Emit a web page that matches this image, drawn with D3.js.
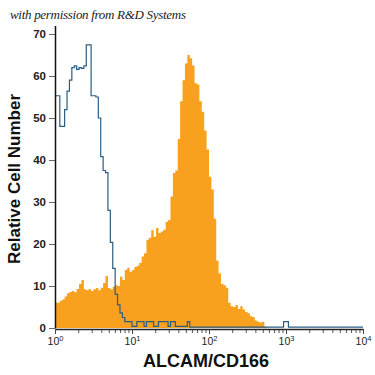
<!DOCTYPE html>
<html>
<head>
<meta charset="utf-8">
<script src="https://cdn.jsdelivr.net/npm/d3@7"></script>
<style>
  body { margin: 0; background: #fff; }
  svg { display: block; }
</style>
</head>
<body>
<div id="chart"></div>
<script>
// histogram channels: 128 bins spread evenly over 4 log decades (10^0 .. 10^4)
var orangeCounts = [
  6, 6, 6.5, 6.8, 7.5, 8.3, 8.6, 8.8, 8.5, 9.3,
  10.5, 11.4, 9.2, 9, 9.3, 8.8, 9.2, 9.5, 9, 9.6,
  10.7, 12.4, 9.5, 9.2, 9.8, 10.2, 10, 12.2, 11.4, 13.8,
  14.3, 13.4, 13.8, 14.5, 14.8, 15.5, 17, 17.8, 21, 21.5,
  23.3, 21.7, 23.8, 22.6, 23, 23.4, 25.3, 25.7, 31.3, 36.9,
  37.5, 45, 54, 59, 63, 65, 64.2, 62.5, 58.3, 58,
  54, 51.5, 47, 42.5, 36, 33, 26, 16, 13, 10.5,
  10.2, 9.6, 6, 5.2, 5, 5.5, 4.5, 5.2, 4.4, 3.8,
  3.5, 2.8, 2.6, 1.8, 1.5, 1.3, 1.5, 0.3
];

var isotypeCounts = [
  55.3, 55.3, 48, 48, 52, 56.4, 59, 62, 62.4, 61.6,
  62, 61.8, 62.4, 67.4, 67.4, 55.3, 55.3, 55, 50, 40.8,
  37.5, 37, 28, 20.4, 14.2, 8, 5.5, 3.6, 2.5, 1.5,
  1.5, 1.5, 0.4, 0.4, 1.5, 1.5, 1.5, 0.4, 1.5, 1.5,
  1.5, 0.4, 0.4, 1.5, 1.5, 1.5, 1.5, 0.4, 1.5, 1.5,
  0.4, 0.4, 0.4, 0.4, 0.4, 1.5, 0.2, 0.2, 0.2, 0.2,
  0.2, 0.2, 0.2, 0.2, 0.2, 0.2, 0.2, 0.2, 0.2, 0.2,
  0.2, 0.2, 0.2, 0.2, 0.2, 0.2, 0.2, 0.2, 0.2, 0.2,
  0.2, 0.2, 0.2, 0.2, 0.2, 0.2, 0.2, 0.2, 0.2, 0.2,
  0.2, 0.2, 0.2, 0.2, 0.2, 1.5, 1.5, 0.2, 0.2, 0.2,
  0.2, 0.2, 0.2, 0.2, 0.2, 0.2, 0.2, 0.2, 0.2, 0.2,
  0.2, 0.2, 0.2, 0.2, 0.2, 0.2, 0.2, 0.2, 0.2, 0.2,
  0.2, 0.2, 0.2, 0.2, 0.2, 0.2, 0.2, 0.2
];

var nBins = 128;
var yTicks = [0, 10, 20, 30, 40, 50, 60, 70];
var xExponents = [0, 1, 2, 3, 4];

var width = 375, height = 375;

var svg = d3.select("#chart")
    .append("svg")
    .attr("width", width)
    .attr("height", height);

var x = d3.scaleLog()
    .domain([1, 10000])
    .range([55, 363]);

var y = d3.scaleLinear()
    .domain([0, 72])
    .range([328, 25.6]);

function binEdge(i) {
    return Math.pow(10, i * 4 / nBins);
}

function toSteps(counts) {
    var pts = counts.map(function (v, i) { return {x: binEdge(i), v: v}; });
    pts.push({x: binEdge(counts.length), v: counts[counts.length - 1]});
    return pts;
}

// orange filled histogram
var area = d3.area()
    .curve(d3.curveStepAfter)
    .x(function (d) { return x(d.x); })
    .y0(y(0))
    .y1(function (d) { return y(d.v); });

svg.append("path")
    .datum(toSteps(orangeCounts))
    .attr("d", area)
    .attr("fill", "#f7a11e");

// isotype control outline
var line = d3.line()
    .curve(d3.curveStepAfter)
    .x(function (d) { return x(d.x); })
    .y(function (d) { return y(d.v); });

svg.append("path")
    .datum(toSteps(isotypeCounts))
    .attr("d", line)
    .attr("fill", "none")
    .attr("stroke", "#2b5d82")
    .attr("stroke-width", 1.2);

// minor x ticks
var minorTicks = [];
xExponents.slice(0, 4).forEach(function (e) {
    for (var m = 2; m <= 9; m++) minorTicks.push(m * Math.pow(10, e));
});

svg.append("g")
    .attr("transform", "translate(0,329)")
    .call(d3.axisBottom(x).tickValues(minorTicks).tickSize(4).tickFormat(""))
    .call(function (g) {
        g.select(".domain").remove();
        g.selectAll("line").attr("stroke", "#555");
    });

// major x ticks + labels
var xAxis = svg.append("g")
    .attr("transform", "translate(0,329)")
    .call(d3.axisBottom(x)
        .tickValues(xExponents.map(function (e) { return Math.pow(10, e); }))
        .tickSize(5)
        .tickSizeOuter(0)
        .tickPadding(4)
        .tickFormat(""));

xAxis.select(".domain").attr("stroke", "#222").attr("stroke-width", 1.4);
xAxis.selectAll("line").attr("stroke", "#444");
xAxis.selectAll(".tick text")
    .attr("font-family", "'Liberation Sans', Arial, sans-serif")
    .attr("font-size", 10.5)
    .attr("fill", "#222")
    .each(function (d, i) {
        var t = d3.select(this);
        t.append("tspan").text("10");
        t.append("tspan")
            .attr("dy", -4)
            .attr("font-size", 7.5)
            .text(xExponents[i]);
    });

// y axis
var yAxis = svg.append("g")
    .attr("transform", "translate(55,0)")
    .call(d3.axisLeft(y)
        .tickValues(yTicks)
        .tickSize(6)
        .tickSizeOuter(0)
        .tickPadding(3));

yAxis.select(".domain").attr("stroke", "#111").attr("stroke-width", 1.5);
yAxis.selectAll("line").attr("stroke", "#666");
yAxis.selectAll("text")
    .attr("font-family", "'Liberation Sans', Arial, sans-serif")
    .attr("font-size", 11.5)
    .attr("font-weight", "bold")
    .attr("fill", "#222");

// titles
svg.append("text")
    .attr("x", 206)
    .attr("y", 367)
    .attr("text-anchor", "middle")
    .attr("font-family", "'Liberation Sans', Arial, sans-serif")
    .attr("font-weight", "bold")
    .attr("font-size", 18)
    .attr("fill", "#111")
    .text("ALCAM/CD166");

svg.append("text")
    .attr("transform", "translate(20,179) rotate(-90)")
    .attr("text-anchor", "middle")
    .attr("font-family", "'Liberation Sans', Arial, sans-serif")
    .attr("font-weight", "bold")
    .attr("font-size", 17)
    .attr("fill", "#111")
    .text("Relative Cell Number");

svg.append("text")
    .attr("x", 10)
    .attr("y", 19)
    .attr("font-family", "'Liberation Serif', 'DejaVu Serif', serif")
    .attr("font-style", "italic")
    .attr("font-size", 13)
    .attr("fill", "#222")
    .attr("textLength", 176)
    .text("with permission from R&D Systems");
</script>
</body>
</html>
